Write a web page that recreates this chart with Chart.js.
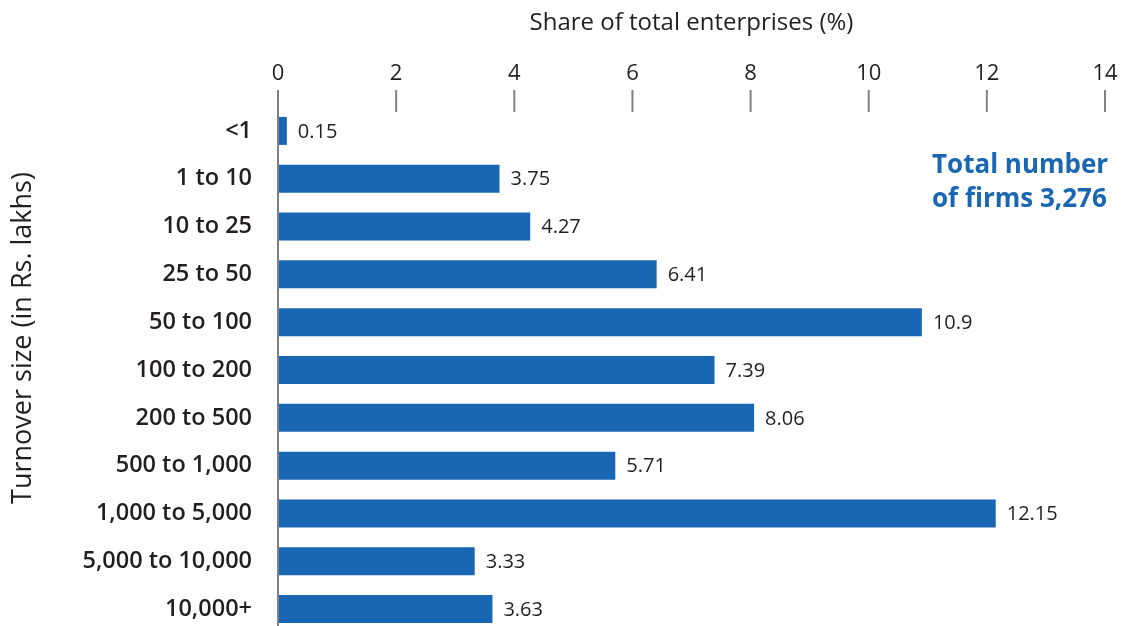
<!DOCTYPE html>
<html>
<head>
<meta charset="utf-8">
<script src="https://cdn.jsdelivr.net/npm/chart.js@4.4.0/dist/chart.umd.min.js"></script>
<style>
  html, body { margin: 0; padding: 0; background: #fff; overflow: hidden; }
  canvas { display: block; }
</style>
</head>
<body>
<canvas id="myChart" width="1123" height="633"></canvas>
<script>
// turnover bands, in Rs. lakhs
const turnoverBands = ['<1', '1 to 10', '10 to 25', '25 to 50', '50 to 100', '100 to 200',
  '200 to 500', '500 to 1,000', '1,000 to 5,000', '5,000 to 10,000', '10,000+'];
// share of total enterprises, %
const shareValues = [0.15, 3.75, 4.27, 6.41, 10.9, 7.39, 8.06, 5.71, 12.15, 3.33, 3.63];
const xTicks = [0, 2, 4, 6, 8, 10, 12, 14];
const totalNote = ['Total number', 'of firms 3,276'];

const FONT = '"Open Sans", sans-serif';
const INK = '#231f20';
const BLUE = '#1967b3';
const AXIS_GREY = '#808080';

// axis line + tick marks, extended a bit above the plot area
const axisMarks = {
  id: 'axisMarks',
  afterDraw(chart) {
    const { ctx, chartArea, scales } = chart;
    const x = scales.x;
    const top = chartArea.top - 17;
    ctx.save();
    ctx.strokeStyle = AXIS_GREY;
    ctx.lineWidth = 2;
    ctx.beginPath();
    const x0 = x.getPixelForValue(0);
    ctx.moveTo(x0, top);
    ctx.lineTo(x0, chartArea.bottom);
    xTicks.slice(1).forEach(v => {
      const px = x.getPixelForValue(v);
      ctx.moveTo(px, top);
      ctx.lineTo(px, chartArea.top + 5);
    });
    ctx.stroke();
    ctx.restore();
  }
};

// value next to each bar, plus the note and rotated y title
const barLabels = {
  id: 'barLabels',
  afterDatasetsDraw(chart) {
    const { ctx } = chart;
    const meta = chart.getDatasetMeta(0);
    ctx.save();
    ctx.font = '20px ' + FONT;
    ctx.fillStyle = INK;
    ctx.textBaseline = 'middle';
    ctx.textAlign = 'left';
    meta.data.forEach((bar, i) => {
      ctx.fillText(String(shareValues[i]), bar.x + 11, bar.y + 1);
    });

    ctx.font = 'bold 26px ' + FONT;
    ctx.fillStyle = BLUE;
    totalNote.forEach((line, i) => {
      ctx.fillText(line, 932, 166 + i * 34);
    });

    ctx.font = '27px ' + FONT;
    ctx.fillStyle = INK;
    ctx.translate(23, 338);
    ctx.rotate(-Math.PI / 2);
    ctx.textAlign = 'center';
    ctx.fillText('Turnover size (in Rs. lakhs)', 0, 0);
    ctx.restore();
  }
};

const ctx = document.getElementById('myChart').getContext('2d');
const chart = new Chart(ctx, {
  type: 'bar',
  data: {
    labels: turnoverBands,
    datasets: [{
      data: shareValues,
      backgroundColor: BLUE,
      borderWidth: 0,
      barPercentage: 0.586,
      categoryPercentage: 1.0
    }]
  },
  options: {
    indexAxis: 'y',
    responsive: false,
    animation: false,
    layout: { padding: { left: 0, right: 18, top: 0, bottom: 0 } },
    plugins: {
      legend: { display: false },
      tooltip: { enabled: false }
    },
    scales: {
      x: {
        position: 'top',
        min: 0,
        max: 14,
        afterFit(scale) {
          scale.height = 107;
          scale.paddingLeft = 0;
          scale.paddingRight = 0;
        },
        afterBuildTicks(scale) { scale.ticks = xTicks.map(v => ({ value: v })); },
        grid: { display: false, drawTicks: false },
        border: { display: false },
        ticks: {
          padding: 20,
          color: INK,
          font: { family: FONT, size: 22 }
        },
        title: {
          display: true,
          text: 'Share of total enterprises (%)',
          color: INK,
          font: { family: FONT, size: 24 },
          padding: { top: 9, bottom: 0 }
        }
      },
      y: {
        afterFit(scale) {
          scale.width = 278;
          scale.paddingTop = 0;
          scale.paddingBottom = 0;
        },
        grid: { display: false, drawTicks: false },
        border: { display: false },
        ticks: {
          padding: 26,
          color: INK,
          font: { family: FONT, size: 23.5, weight: '600' }
        }
      }
    }
  },
  plugins: [axisMarks, barLabels]
});
</script>
</body>
</html>
